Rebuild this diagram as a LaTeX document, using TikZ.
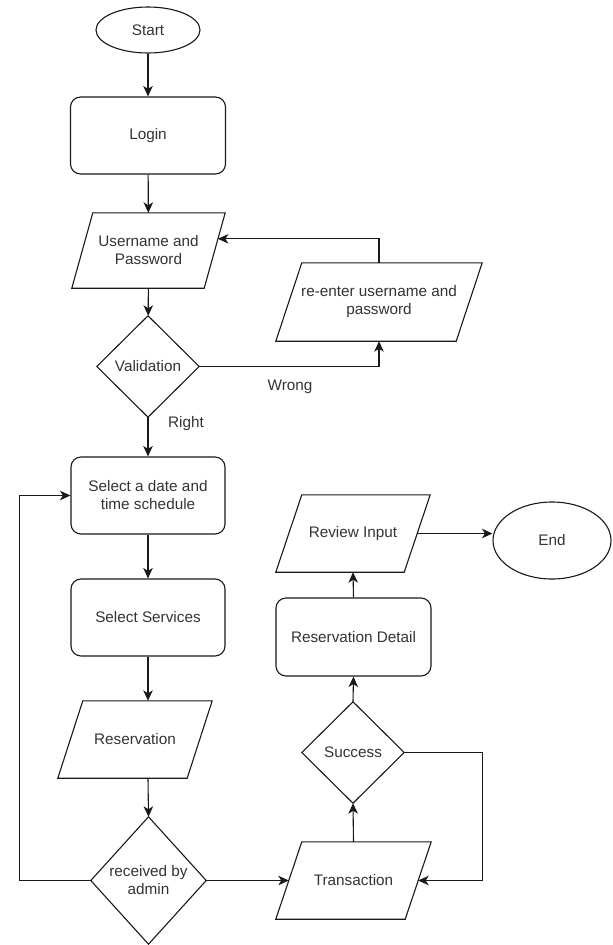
\documentclass[tikz,border=0pt]{standalone}
\usepackage{fontspec}
\setmainfont{Liberation Sans}
\usetikzlibrary{arrows.meta,calc,shapes.geometric}
\begin{document}
\begin{tikzpicture}[x=1pt,y=-1pt,
  every node/.style={font=\fontsize{15.3}{18}\selectfont, text=black!80, align=center, inner sep=0pt},
  line/.style={draw=black!90, line width=1.1pt},
  arr/.style={line, -{Stealth[length=10.5pt,width=9.5pt,inset=3pt]}},
  box/.style={line, rectangle, rounded corners=10pt, minimum width=#1, minimum height=77pt},
  frame/.style n args={2}{rectangle, minimum width=#1, minimum height=#2},
  oval/.style n args={2}{line, ellipse, minimum width=#1, minimum height=#2},
  lbl/.style={text=black!80}
]
\useasboundingbox (0,0) rectangle (613,945);
\newcommand\drawpara[2]{\draw[line] ($(#1.north west)+(#2,0)$) -- (#1.north east) -- ($(#1.south east)+(-#2,0)$) -- (#1.south west) -- cycle;}
\newcommand\drawdiam[1]{\draw[line] (#1.north) -- (#1.east) -- (#1.south) -- (#1.west) -- cycle;}

% nodes
\node[oval={104pt}{46pt}] (start) at (148,30) {Start};
\node[box=155pt] (login) at (148,135.5) {Login};
\node[frame={153pt}{75pt}] (user) at (148.5,250.5) {Username and\\Password};
\node[frame={102pt}{101pt}] (valid) at (148,366.5) {Validation};
\node[frame={206pt}{78pt}] (reenter) at (379,302) {re-enter username and\\password};
\node[box=154pt] (date) at (148,495.5) {Select a date and\\time schedule};
\node[box=154pt] (services) at (148,617.5) {Select Services};
\node[frame={154pt}{77pt}] (resv) at (135,739.5) {Reservation};
\node[frame={115pt}{127pt}] (recv) at (148.5,880.5) {received by\\admin};
\node[frame={155pt}{77pt}] (trans) at (353.5,880.5) {Transaction};
\node[frame={102pt}{101pt}] (success) at (353,752.5) {Success};
\node[box=155pt, minimum height=78pt] (detail) at (353.5,637) {Reservation Detail};
\node[frame={154pt}{77pt}] (review) at (353,533.5) {Review Input};
\node[oval={118pt}{77pt}] (end) at (552,540.5) {End};

\drawpara{user}{21}
\drawpara{reenter}{26}
\drawpara{resv}{25}
\drawpara{trans}{26}
\drawpara{review}{26}
\drawdiam{valid}
\drawdiam{recv}
\drawdiam{success}

% side points of the parallelograms
\coordinate (userR) at ($(user.north east)+(-7.3,26)$);
\coordinate (transL) at ($(trans.west)+(13,0)$);
\coordinate (transR) at ($(trans.east)+(-13,0)$);
\coordinate (reviewR) at ($(review.east)+(-13,0)$);
\coordinate (succR) at ($(success.east)+(78,0)$);
\coordinate (loopL) at ($(recv.west)+(-71,0)$);

% connectors
\draw[arr] (start) -- (login);
\draw[arr] (login) -- (user);
\draw[arr] (user) -- (valid);
\draw[arr] (valid.east) -| (reenter.south);
\draw[arr] (reenter.north) |- (userR);
\draw[arr] (valid.south) -- (date.north);
\draw[arr] (date) -- (services);
\draw[arr] (services.south) -- (services.south |- resv.north);
\draw[arr] (services.south |- resv.south) -- (recv.north);
\draw[arr] (recv.west) -- (loopL) |- (date.west);
\draw[arr] (recv.east) -- (transL);
\draw[arr] (trans.north) -- (success.south);
\draw[arr] (success.east) -- (succR) |- (transR);
\draw[arr] (success.north) -- (detail.south);
\draw[arr] (detail.north) -- (review.south);
\draw[arr] (reviewR) -- (reviewR -| end.west);

% labels
\node[lbl] (wrong) at (290,387) {Wrong};
\node[lbl] (right) at (186,424) {Right};
\end{tikzpicture}
\end{document}
